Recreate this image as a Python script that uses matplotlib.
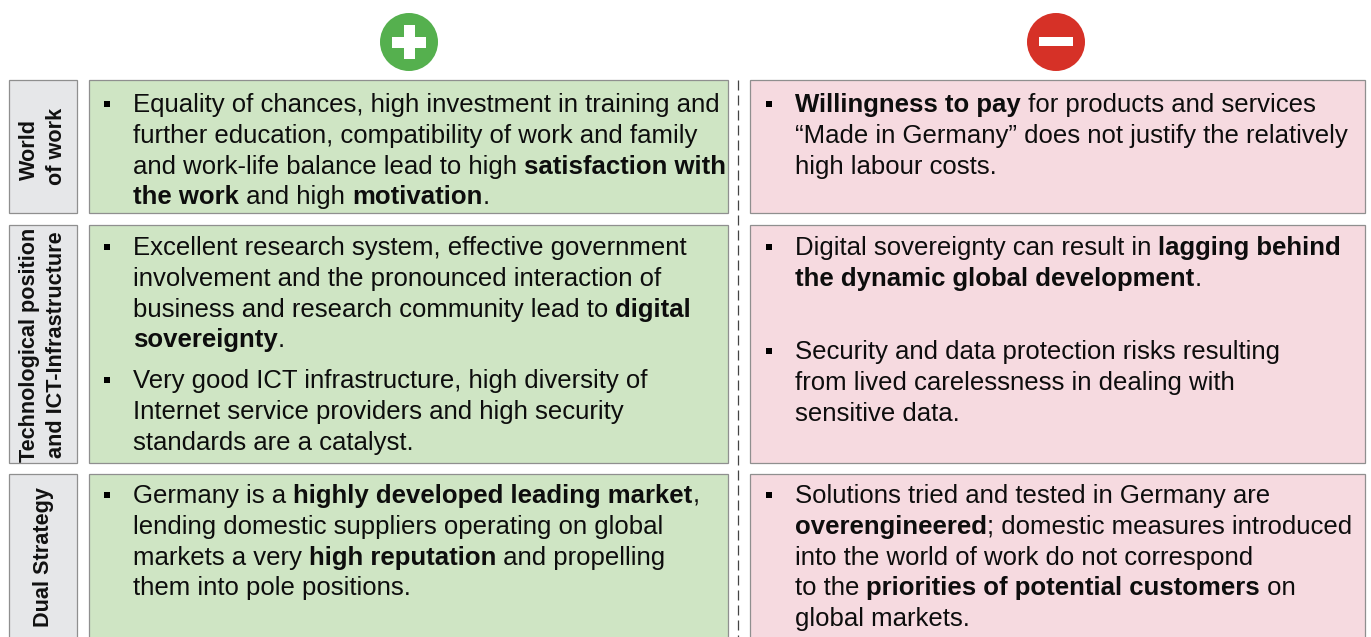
import matplotlib
matplotlib.use('Agg')
from matplotlib import pyplot as plt
from matplotlib.patches import Rectangle, Circle

# row labels: (text, x centre, y centre)
row_labels = [
    ('World', 29, 150), ('of work', 57, 146),
    ('Technological position', 30, 345), ('and ICT-Infrastructure', 57, 345),
    ('Dual Strategy', 44, 557),
]

# text lines, ** marks bold
left_1 = ['Equality of chances, high investment in training and',
          'further education, compatibility of work and family',
          'and work-life balance lead to high **satisfaction with',
          'the work** and high **motivation**.']
left_2a = ['Excellent research system, effective government',
           'involvement and the pronounced interaction of',
           'business and research community lead to **digital',
           'sovereignty**.']
left_2b = ['Very good ICT infrastructure, high diversity of',
           'Internet service providers and high security',
           'standards are a catalyst.']
left_3 = ['Germany is a **highly developed leading market**,',
          'lending domestic suppliers operating on global',
          'markets a very **high reputation** and propelling',
          'them into pole positions.']
right_1 = ['**Willingness to pay** for products and services',
           '“Made in Germany” does not justify the relatively',
           'high labour costs.']
right_2a = ['Digital sovereignty can result in **lagging behind',
            'the dynamic global development**.']
right_2b = ['Security and data protection risks resulting',
            'from lived carelessness in dealing with',
            'sensitive data.']
right_3 = ['Solutions tried and tested in Germany are',
           '**overengineered**; domestic measures introduced',
           'into the world of work do not correspond',
           'to the **priorities of potential customers** on',
           'global markets.']

# (lines, first baseline)
left_blocks = [(left_1, 112), (left_2a, 255), (left_2b, 388), (left_3, 503)]
right_blocks = [(right_1, 112), (right_2a, 255), (right_2b, 359), (right_3, 503)]

GREEN = '#cfe5c4'
PINK = '#f6dae0'
GREY = '#e6e7e9'
EDGE = '#8f8f8f'
FS = 18.55
STEP = 30.8

plt.rcParams['font.family'] = ['Liberation Sans', 'DejaVu Sans']

fig = plt.figure(figsize=(13.71, 6.37), dpi=100)
ax = fig.add_axes([0, 0, 1, 1])
ax.set_xlim(0, 1371)
ax.set_ylim(637, 0)
ax.axis('off')


def box(x0, x1, y0, y1, color):
    ax.add_patch(Rectangle((x0, y0), x1 - x0, y1 - y0, facecolor=color,
                           edgecolor=EDGE, linewidth=0.9))


for y0, y1 in [(80, 213), (225, 463), (474, 650)]:
    box(9, 77, y0, y1, GREY)
    box(88.5, 728, y0, y1, GREEN)
    box(749.5, 1365, y0, y1, PINK)

ax.plot([738, 738], [80, 637], color='#444444', lw=0.9, dashes=(8, 4))

# plus and minus signs
ax.add_patch(Circle((409, 42), 29, facecolor='#55b04e', edgecolor='none'))
ax.add_patch(Rectangle((392, 36.5), 34, 11, facecolor='white', edgecolor='none'))
ax.add_patch(Rectangle((403.5, 25), 11, 34, facecolor='white', edgecolor='none'))
ax.add_patch(Circle((1056, 42), 29, facecolor='#d63127', edgecolor='none'))
ax.add_patch(Rectangle((1039, 37), 34, 9, facecolor='white', edgecolor='none'))

for label, x, y in row_labels:
    ax.text(x, y, label, rotation=90, ha='center', va='center', fontsize=15.6,
            fontweight='bold', color='#111111')

renderer = fig.canvas.get_renderer()


def text_width(s, weight):
    # sentinel keeps spaces at the end of a piece in the measurement
    t1 = ax.text(0, 0, s + '|', fontsize=FS, fontweight=weight)
    t2 = ax.text(0, 0, '|', fontsize=FS, fontweight=weight)
    w = t1.get_window_extent(renderer).width - t2.get_window_extent(renderer).width
    t1.remove()
    t2.remove()
    return w


def draw_blocks(blocks, text_x, bullet_x):
    for lines, first in blocks:
        ax.plot(bullet_x, first - 8.5, marker='s', ms=4.9, color='black', mew=0)
        bold = False
        for i, line in enumerate(lines):
            x = text_x
            y = first + i * STEP
            for j, piece in enumerate(line.split('**')):
                if j > 0:
                    bold = not bold
                if not piece:
                    continue
                weight = 'bold' if bold else 'normal'
                ax.text(x, y, piece, fontsize=FS, fontweight=weight,
                        color='#0d0d0d', va='baseline', ha='left')
                x += text_width(piece, weight)


draw_blocks(left_blocks, 133, 106.5)
draw_blocks(right_blocks, 795, 768.5)

fig.savefig('out.png', dpi=100)
